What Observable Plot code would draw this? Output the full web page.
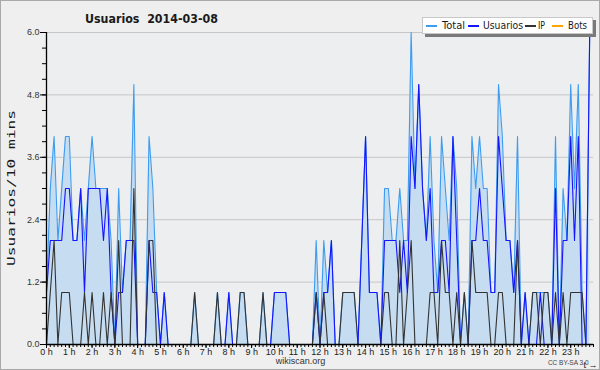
<!DOCTYPE html>
<html>
<head>
<meta charset="utf-8">
<script src="https://cdn.jsdelivr.net/npm/d3@7"></script>
<script src="https://cdn.jsdelivr.net/npm/@observablehq/plot@0.6"></script>
<style>
  html, body { margin: 0; padding: 0; background: #efefef; overflow: hidden; }
  #chart { position: relative; width: 600px; height: 370px; background: #efefef; overflow: hidden; }
  #chart svg.plot { position: absolute; left: 0; top: 0; max-width: none; }
  .lbl { position: absolute; white-space: pre; line-height: 1; transform-origin: 0 0; color: #1a1a1a; }
  #border { position: absolute; left: 0; top: 0; width: 598px; height: 368px; border: 1px solid #a9a9a9; pointer-events: none; }
  #legend { position: absolute; left: 422px; top: 17px; width: 169px; height: 15px; background: #fff; border: 1px solid #c8c8c8; box-shadow: 3px 3px 0 #7a7a7a; }
  .sw { position: absolute; height: 1.5px; top: 25px; }
</style>
</head>
<body>
<div id="chart"><div id="legend"></div><div id="border"></div></div>
<script>
// ---- data (10-minute slots, 2014-03-08) ----
const hourLabels = ["0 h","1 h","2 h","3 h","4 h","5 h","6 h","7 h","8 h","9 h","10 h","11 h","12 h","13 h","14 h","15 h","16 h","17 h","18 h","19 h","20 h","21 h","22 h","23 h"];
const yTicks = [0, 1.2, 2.4, 3.6, 4.8, 6.0];
const seriesNames = ["Total", "Usuarios", "IP", "Bots"];
const seriesColors = ["#3d9cf0", "#1414ff", "#333333", "#ffa500"];
const footer = ["wikiscan.org", "CC BY-SA 3.0"];

const usuarios = [
  1,2,2,2,2,3,3,2,2,3,1,3,3,3,3,2,3,1,
  0,1,1,2,2,2,0,0,0,2,1,1,0,1,0,0,0,0,
  0,0,0,0,0,0,0,0,0,0,0,0,1,0,0,0,0,0,
  0,0,0,0,0,0,1,1,1,1,0,0,0,0,0,0,0,1,
  0,1,1,2,0,0,0,0,0,0,0,2,4,1,1,1,0,2,
  2,2,2,1,2,1,4,3,5,3,2,3,1,1,2,2,1,4,
  2,0,0,0,2,2,3,2,2,1,1,4,3,2,2,1,2,0,
  1,0,0,0,1,0,0,0,3,0,2,2,4,2,4,0,0,6
];
const ip = [
  0,1,2,0,1,1,1,0,0,0,1,0,1,0,0,1,0,1,
  0,2,0,0,0,3,0,0,0,2,2,0,0,0,0,0,0,0,
  0,0,0,1,0,0,0,0,0,1,0,0,0,0,0,1,1,0,
  0,0,0,1,0,0,0,0,0,0,0,0,0,0,0,0,0,1,
  0,1,0,0,0,0,1,1,1,1,0,0,0,0,0,0,0,1,
  1,0,0,2,0,1,2,0,0,0,0,1,1,0,2,1,1,0,
  1,0,1,0,2,1,1,1,1,0,0,1,1,0,0,0,2,0,
  0,0,1,1,0,1,1,0,1,0,1,0,1,1,1,1,0,0
];
const total = [
  1,3,4,2,3,4,4,2,2,3,2,3,4,3,3,3,3,2,
  0,3,1,2,2,5,0,0,0,4,3,1,0,1,0,0,0,0,
  0,0,0,1,0,0,0,0,0,1,0,0,1,0,0,1,1,0,
  0,0,0,1,0,0,1,1,1,1,0,0,0,0,0,0,0,2,
  0,2,1,2,0,0,1,1,1,1,0,2,4,1,1,1,0,3,
  3,2,2,3,2,2,6,3,5,3,2,4,2,1,4,3,2,4,
  3,0,1,0,4,3,4,3,3,1,1,5,4,2,2,1,4,0,
  1,0,1,1,1,1,1,0,4,0,3,2,5,3,5,1,0,6
];
const bots = new Array(144).fill(0);

// ---- table built from arrays ----
const data = total.map((t, i) => ({
  t: i / 6, total: t, usuarios: usuarios[i], ip: ip[i], bots: bots[i]
}));
const hours = d3.range(0, 24);
const tenMin = d3.range(0, 145).map(i => i / 6);
const minorY = d3.range(0, 21).map(i => i * 0.3);

const plot = Plot.plot({
  width: 600, height: 370,
  marginLeft: 46, marginRight: 7, marginTop: 32, marginBottom: 26,
  x: {domain: [0, 24], axis: null},
  y: {domain: [0, 6], axis: null},
  style: {background: "transparent", fontFamily: "'Liberation Sans', Arial, sans-serif", fontSize: "9px", color: "#222"},
  marks: [
    Plot.frame({fill: "#eceef0", stroke: null}),
    Plot.gridY(yTicks, {stroke: "#c6c6c6", strokeOpacity: 1}),
    Plot.areaY(data, {x: "t", y: "total", fill: "#c6dcf0"}),
    Plot.lineY(data, {x: "t", y: "bots", stroke: seriesColors[3], strokeWidth: 1}),
    Plot.lineY(data, {x: "t", y: "total", stroke: seriesColors[0], strokeWidth: 1.1}),
    Plot.lineY(data, {x: "t", y: "usuarios", stroke: seriesColors[1], strokeWidth: 1.1}),
    Plot.lineY(data, {x: "t", y: "ip", stroke: seriesColors[2], strokeWidth: 1.1}),
    // minor tick marks (no labels)
    Plot.ruleY(minorY, {x1: 0, x2: 0, insetLeft: -4, stroke: "#000"}),
    Plot.ruleX(tenMin, {y1: 0, y2: 0, insetBottom: -3, stroke: "#000"}),
    Plot.axisY(yTicks, {tickSize: 6, tickPadding: 1, tickFormat: d => d.toFixed(1), stroke: "#000", fill: "#333", fontSize: 9}),
    Plot.axisX(hours, {tickSize: 4, tickPadding: 0, tickFormat: (d) => hourLabels[d], stroke: "#000", fill: "#222", fontSize: 9}),
    Plot.ruleY([0], {stroke: "#000", strokeWidth: 1.3}),
    Plot.ruleX([0], {stroke: "#000", strokeWidth: 1.3}),
    // footer texts
    Plot.text([footer[0]], {text: d => d, frameAnchor: "bottom", dx: -19.5, dy: 19, fontSize: 9, fill: "#333"}),
    Plot.text([footer[1]], {text: d => d, frameAnchor: "bottom-right", textAnchor: "end", dx: -5, dy: 20, fontSize: 6.5, fill: "#444"})
  ]
});
plot.classList.add("plot");
const chart = document.getElementById("chart");
chart.insertBefore(plot, chart.firstChild);

// ---- text helper: place text and scale it to a measured width ----
function label(text, o) {
  const el = document.createElement("div");
  el.className = "lbl";
  el.textContent = text;
  el.style.fontFamily = o.family || "'DejaVu Sans Condensed', 'DejaVu Sans', sans-serif";
  el.style.fontSize = o.size + "px";
  el.style.fontWeight = o.weight || "normal";
  if (o.color) el.style.color = o.color;
  chart.appendChild(el);
  const r = el.getBoundingClientRect();
  const w = r.width, h = r.height;
  const s = o.width ? o.width / w : 1;
  if (o.width) el.style.width = w + "px";
  if (o.rotate) {
    el.style.left = o.x + "px";
    el.style.top = o.y + "px";
    el.style.transform = `rotate(-90deg) scale(${s},1) translate(${-w/2}px, ${-h/2}px)`;
  } else {
    el.style.left = o.x + "px";
    el.style.top = (o.y - h / 2) + "px";
    if (o.width) el.style.transform = `scale(${s},1)`;
  }
  return el;
}

label("Usuarios  2014-03-08", {x: 85, y: 18, size: 13, weight: "bold", width: 133});
label("Usuarios/10 mins", {x: 11, y: 188, size: 10.5, family: "'DejaVu Sans Mono', monospace", width: 156, rotate: true});

// legend
const legendItems = [
  {sx: 426, tx: 442, tw: 23},
  {sx: 468, tx: 483, tw: 40},
  {sx: 525, tx: 538, tw: 7},
  {sx: 552, tx: 568, tw: 19}
];
seriesNames.forEach((name, k) => {
  const sw = document.createElement("div");
  sw.className = "sw";
  sw.style.left = legendItems[k].sx + "px";
  sw.style.width = "11px";
  sw.style.background = seriesColors[k];
  chart.appendChild(sw);
  label(name, {x: legendItems[k].tx, y: 25, size: 11, width: legendItems[k].tw});
});
</script>
</body>
</html>
